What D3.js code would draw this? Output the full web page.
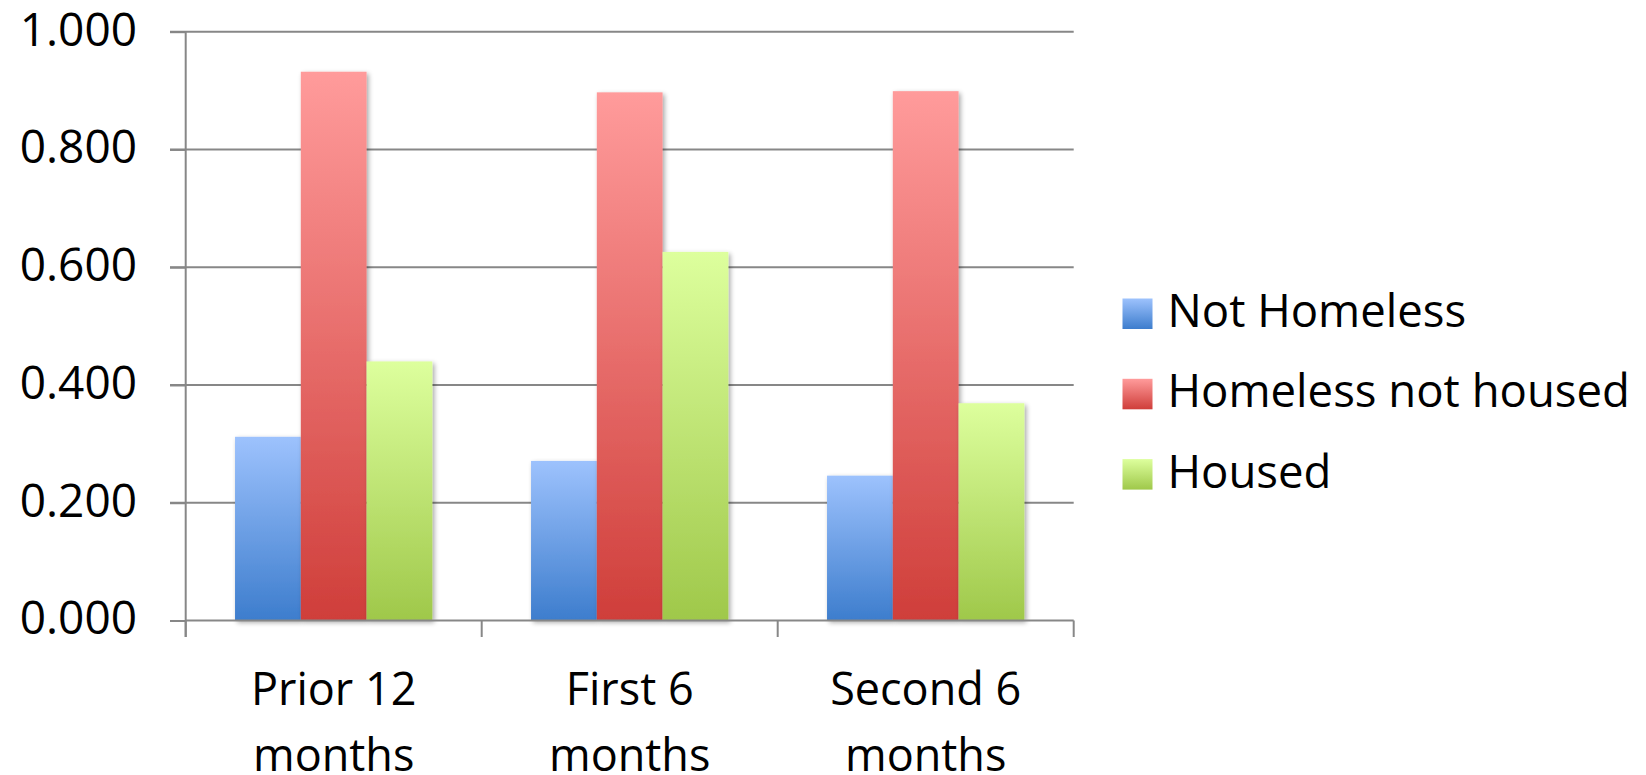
<!DOCTYPE html>
<html>
<head>
<meta charset="utf-8">
<script src="https://cdn.jsdelivr.net/npm/d3@7/dist/d3.min.js"></script>
<style>
  html, body { margin: 0; padding: 0; background: #ffffff; }
  svg { display: block; }
</style>
</head>
<body>
<svg id="chart" width="1646" height="775"></svg>
<script>
// Periods on the category axis (each label wraps onto two lines)
const categories = ["Prior 12 months", "First 6 months", "Second 6 months"];
const categoryLines = [["Prior 12", "months"], ["First 6", "months"], ["Second 6", "months"]];

// Series names and their values per period
const seriesNames = ["Not Homeless", "Homeless not housed", "Housed"];
const notHomeless = [0.312, 0.271, 0.246];
const homelessNotHoused = [0.932, 0.897, 0.899];
const housed = [0.440, 0.626, 0.369];
const seriesValues = [notHomeless, homelessNotHoused, housed];

// Value axis ticks
const yTicks = [0, 0.2, 0.4, 0.6, 0.8, 1.0];

// Gradient stops (top, bottom) for each series
const seriesColors = [
  ["#9dc2fd", "#3d7dcd"],
  ["#ff9b9b", "#cf3e3a"],
  ["#ddff9d", "#9fc84a"]
];

const svg = d3.select("#chart");
const plot = { left: 185.7, right: 1073.7, top: 31.7, bottom: 620.5 };
const axisColor = "#878787";

const x0 = d3.scaleBand().domain(categories).range([plot.left, plot.right]).padding(0);
const x1 = d3.scaleBand().domain(seriesNames).range([0, x0.bandwidth()])
  .paddingInner(0).paddingOuter(0.75);
const y = d3.scaleLinear().domain([0, 1]).range([plot.bottom, plot.top]);

// Gradients and bar shadow
const defs = svg.append("defs");
seriesNames.forEach((name, i) => {
  const g = defs.append("linearGradient")
    .attr("id", "grad" + i)
    .attr("x1", 0).attr("y1", 0).attr("x2", 0).attr("y2", 1);
  g.append("stop").attr("offset", "0%").attr("stop-color", seriesColors[i][0]);
  g.append("stop").attr("offset", "100%").attr("stop-color", seriesColors[i][1]);
});
const shadow = defs.append("filter").attr("id", "shadow")
  .attr("x", "-20%").attr("y", "-5%").attr("width", "140%").attr("height", "115%");
shadow.append("feGaussianBlur").attr("in", "SourceAlpha").attr("stdDeviation", 2.5).attr("result", "blur");
shadow.append("feOffset").attr("in", "blur").attr("dx", 2).attr("dy", 2).attr("result", "off");
shadow.append("feComponentTransfer").attr("in", "off").attr("result", "soft")
  .append("feFuncA").attr("type", "linear").attr("slope", 0.35);
const merge = shadow.append("feMerge");
merge.append("feMergeNode").attr("in", "soft");
merge.append("feMergeNode").attr("in", "SourceGraphic");

// Horizontal gridlines
svg.append("g").selectAll("line")
  .data(yTicks.filter(d => d > 0))
  .join("line")
  .attr("x1", plot.left - 15.7)
  .attr("x2", plot.right)
  .attr("y1", d => y(d))
  .attr("y2", d => y(d))
  .attr("stroke", axisColor)
  .attr("stroke-width", 2);

// Bars
const groups = svg.append("g").selectAll("g")
  .data(categories)
  .join("g")
  .attr("transform", d => `translate(${x0(d)},0)`);

groups.selectAll("rect")
  .data((c, ci) => seriesNames.map((s, si) => ({ series: s, si, value: seriesValues[si][ci] })))
  .join("rect")
  .attr("x", d => x1(d.series))
  .attr("width", x1.bandwidth())
  .attr("y", d => y(d.value))
  .attr("height", d => y(0) - y(d.value))
  .attr("fill", d => `url(#grad${d.si})`)
  .attr("filter", "url(#shadow)");

// Value axis labels and ticks
const yAxis = svg.append("g")
  .attr("transform", `translate(${plot.left},0)`)
  .call(d3.axisLeft(y).tickValues(yTicks).tickFormat(d3.format(".3f"))
    .tickSize(15.7).tickPadding(33));
yAxis.select(".domain").remove();
yAxis.selectAll(".tick line").attr("stroke", axisColor).attr("stroke-width", 2);
yAxis.selectAll(".tick text")
  .attr("font-family", "'Open Sans', sans-serif")
  .attr("font-size", 46)
  .attr("fill", "#000")
  .attr("dy", "0.29em");

// Category axis: baseline, ticks and two-line labels
const xAxis = svg.append("g")
  .attr("transform", `translate(0,${plot.bottom})`)
  .call(d3.axisBottom(x0).tickSize(0).tickFormat(""));
xAxis.select(".domain").attr("stroke", axisColor).attr("stroke-width", 2)
  .attr("d", `M${plot.left},0H${plot.right}`);

const boundaries = categories.map(c => x0(c)).concat([plot.right]);
svg.append("g").selectAll("line")
  .data(boundaries)
  .join("line")
  .attr("x1", d => d).attr("x2", d => d)
  .attr("y1", plot.bottom).attr("y2", plot.bottom + 16.5)
  .attr("stroke", axisColor).attr("stroke-width", 2);

// Vertical axis line
svg.append("line")
  .attr("x1", plot.left).attr("x2", plot.left)
  .attr("y1", plot.top).attr("y2", plot.bottom + 16.5)
  .attr("stroke", axisColor).attr("stroke-width", 2);

const catLabels = svg.append("g").selectAll("text")
  .data(categories)
  .join("text")
  .attr("x", d => x0(d) + x0.bandwidth() / 2)
  .attr("text-anchor", "middle")
  .attr("font-family", "'Open Sans', sans-serif")
  .attr("font-size", 45)
  .attr("fill", "#000");
catLabels.selectAll("tspan")
  .data((d, i) => categoryLines[i])
  .join("tspan")
  .attr("x", function() { return d3.select(this.parentNode).attr("x"); })
  .attr("y", (d, i) => 705 + i * 65.5)
  .text(d => d);

// Legend
const legend = svg.append("g").attr("transform", "translate(1122.5,0)");
const legendRows = legend.selectAll("g")
  .data(seriesNames)
  .join("g")
  .attr("transform", (d, i) => `translate(0,${298.5 + i * 80.3})`);
legendRows.append("rect")
  .attr("width", 30).attr("height", 30.5)
  .attr("fill", (d, i) => `url(#grad${i})`);
legendRows.append("text")
  .attr("x", 45)
  .attr("y", 28.5)
  .attr("font-family", "'Open Sans', sans-serif")
  .attr("font-size", 45.5)
  .attr("fill", "#000")
  .text(d => d);
</script>
</body>
</html>
